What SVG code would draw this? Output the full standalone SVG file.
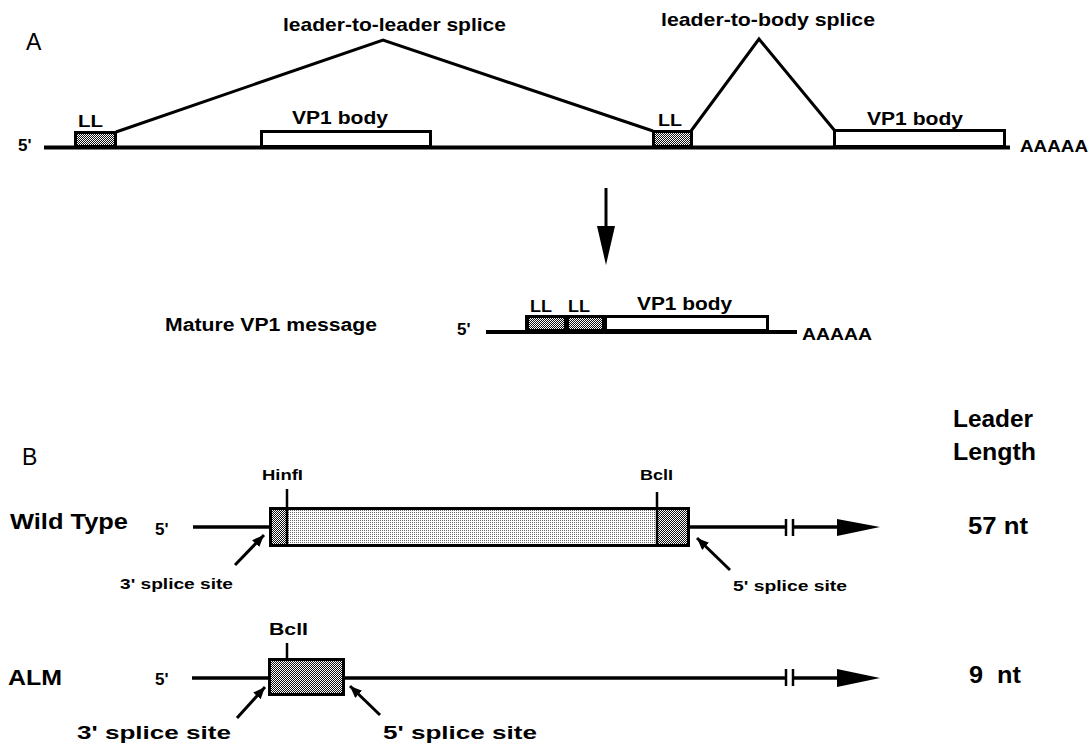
<svg xmlns="http://www.w3.org/2000/svg" width="1089" height="747" viewBox="0 0 1089 747">
<style>
text{font-family:"Liberation Sans",Arial,sans-serif;font-weight:bold;fill:#000}
.lbl{font-weight:normal;font-size:23px}
.ln{stroke:#000;fill:none;stroke-linecap:butt}
.box{stroke:#000;stroke-width:3}
</style>
<defs>
<pattern id="chk" width="2" height="2" patternUnits="userSpaceOnUse"><rect width="2" height="2" fill="#111"/><rect width="1" height="1" fill="#fff"/><rect x="1" y="1" width="1" height="1" fill="#fff"/></pattern>
<pattern id="lt" width="2" height="2" patternUnits="userSpaceOnUse"><rect width="2" height="2" fill="#fff"/><rect width="1" height="1" fill="#666"/></pattern>
<marker id="ah" markerUnits="userSpaceOnUse" markerWidth="14" markerHeight="12" refX="12" refY="5" orient="auto"><path d="M0,0 L12,5 L0,10 Z" fill="#000"/></marker>
</defs>
<rect width="1089" height="747" fill="#fff"/>

<!-- Panel A -->
<g id="panelA">
<text class="lbl" x="26" y="50">A</text>
<text x="18" y="151" font-size="17">5'</text>
<line class="ln" x1="44" y1="147.5" x2="1010" y2="147.5" stroke-width="4"/>
<text x="1020" y="152" font-size="17" textLength="68" lengthAdjust="spacingAndGlyphs">AAAAA</text>
</g>
<g id="LL1">
<rect class="box" x="75.5" y="132.5" width="40" height="14" fill="url(#chk)"/>
<text x="78" y="127" font-size="16" textLength="25" lengthAdjust="spacingAndGlyphs">LL</text>
</g>
<g id="VP1body1">
<rect class="box" x="261.5" y="131.5" width="169" height="15" fill="#fff"/>
<text x="292" y="124" font-size="19" textLength="96" lengthAdjust="spacingAndGlyphs">VP1 body</text>
</g>
<g id="LL2">
<rect class="box" x="653.5" y="131.5" width="38" height="15" fill="url(#chk)"/>
<text x="658" y="126" font-size="16" textLength="24" lengthAdjust="spacingAndGlyphs">LL</text>
</g>
<g id="VP1body2">
<rect class="box" x="834.5" y="130.5" width="170" height="16" fill="#fff"/>
<text x="867" y="125" font-size="19" textLength="96" lengthAdjust="spacingAndGlyphs">VP1 body</text>
</g>
<g id="spliceLabels">
<text x="283" y="31" font-size="19" textLength="223" lengthAdjust="spacingAndGlyphs">leader-to-leader splice</text>
<text x="661" y="26" font-size="19" textLength="214" lengthAdjust="spacingAndGlyphs">leader-to-body splice</text>
</g>

<!-- Mature message -->
<g id="mature">
<text x="165" y="331" font-size="18" textLength="212" lengthAdjust="spacingAndGlyphs">Mature VP1 message</text>
<text x="457" y="335" font-size="17">5'</text>
<line class="ln" x1="486" y1="332" x2="797" y2="332" stroke-width="4"/>
<rect x="525" y="315" width="82" height="17" fill="#000"/>
<rect x="529" y="318" width="35" height="11" fill="url(#chk)"/>
<rect x="569" y="318" width="33" height="11" fill="url(#chk)"/>
<rect class="box" x="605.5" y="316.5" width="162" height="14" fill="#fff"/>
<text x="530" y="312" font-size="16" textLength="22" lengthAdjust="spacingAndGlyphs">LL</text>
<text x="568" y="312" font-size="16" textLength="22" lengthAdjust="spacingAndGlyphs">LL</text>
<text x="637" y="310" font-size="19" textLength="95" lengthAdjust="spacingAndGlyphs">VP1 body</text>
<text x="802" y="340" font-size="17" textLength="70" lengthAdjust="spacingAndGlyphs">AAAAA</text>
</g>

<!-- Panel B -->
<g id="panelB">
<text class="lbl" x="22" y="465">B</text>
<text x="953" y="427" font-size="24" textLength="80" lengthAdjust="spacingAndGlyphs">Leader</text>
<text x="953" y="460" font-size="24" textLength="83" lengthAdjust="spacingAndGlyphs">Length</text>
</g>
<g id="wildtype">
<text x="10" y="529" font-size="22" textLength="118" lengthAdjust="spacingAndGlyphs">Wild Type</text>
<text x="155" y="535" font-size="17">5'</text>
<rect class="box" x="270.5" y="508.5" width="418" height="37" fill="url(#lt)"/>
<rect x="272" y="510" width="15" height="34" fill="url(#chk)"/>
<rect x="658" y="510" width="29" height="34" fill="url(#chk)"/>
<line class="ln" x1="287" y1="508" x2="287" y2="546" stroke-width="2.5"/>
<line class="ln" x1="657" y1="508" x2="657" y2="546" stroke-width="2.5"/>
<line class="ln" x1="287" y1="489" x2="287" y2="508" stroke-width="2.5"/>
<line class="ln" x1="657" y1="492" x2="657" y2="508" stroke-width="2.5"/>
<text x="262" y="480" font-size="14" textLength="41" lengthAdjust="spacingAndGlyphs">HinfI</text>
<text x="640" y="480" font-size="14" textLength="33" lengthAdjust="spacingAndGlyphs">BclI</text>
<text x="968" y="534" font-size="23" textLength="60" lengthAdjust="spacingAndGlyphs">57 nt</text>
<text x="120" y="589" font-size="15" textLength="113" lengthAdjust="spacingAndGlyphs">3' splice site</text>
<text x="733" y="591" font-size="15" textLength="114" lengthAdjust="spacingAndGlyphs">5' splice site</text>
</g>
<g id="alm">
<text x="8" y="685" font-size="22" textLength="54" lengthAdjust="spacingAndGlyphs">ALM</text>
<text x="155" y="685" font-size="17">5'</text>
<rect class="box" x="269.5" y="659.5" width="74" height="35" fill="url(#chk)"/>
<line class="ln" x1="287" y1="643" x2="287" y2="659" stroke-width="2.5"/>
<text x="269" y="635" font-size="16" textLength="39" lengthAdjust="spacingAndGlyphs">BclI</text>
<text x="969" y="683" font-size="23" textLength="52" lengthAdjust="spacingAndGlyphs" xml:space="preserve">9  nt</text>
<text x="77" y="739" font-size="19" textLength="154" lengthAdjust="spacingAndGlyphs">3' splice site</text>
<text x="383" y="739" font-size="19" textLength="154" lengthAdjust="spacingAndGlyphs">5' splice site</text>
</g>

<!-- Connectors -->
<g id="connectors">
<polyline class="ln" points="116,132 383,40 653,131" stroke-width="3" stroke-linejoin="miter"/>
<polyline class="ln" points="691,131 759,39 835,131" stroke-width="3" stroke-linejoin="miter"/>
<line class="ln" x1="606" y1="188" x2="606" y2="230" stroke-width="3"/>
<polygon points="597,226 615,226 606,265" fill="#000"/>
<line class="ln" x1="193" y1="527" x2="270" y2="527" stroke-width="3.5"/>
<line class="ln" x1="690" y1="527" x2="786" y2="527" stroke-width="3.5"/>
<line class="ln" x1="786" y1="519" x2="786" y2="536" stroke-width="2.5"/>
<line class="ln" x1="793" y1="519" x2="793" y2="536" stroke-width="2.5"/>
<line class="ln" x1="793" y1="527" x2="840" y2="527" stroke-width="3.5"/>
<polygon points="837,519 880,527 837,536" fill="#000"/>
<line class="ln" x1="192" y1="678" x2="269" y2="678" stroke-width="3.5"/>
<line class="ln" x1="345" y1="678" x2="786" y2="678" stroke-width="3.5"/>
<line class="ln" x1="786" y1="669" x2="786" y2="686" stroke-width="2.5"/>
<line class="ln" x1="793" y1="669" x2="793" y2="686" stroke-width="2.5"/>
<line class="ln" x1="793" y1="678" x2="840" y2="678" stroke-width="3.5"/>
<polygon points="837,669 880,678 837,687" fill="#000"/>
<line class="ln" x1="235" y1="565" x2="264" y2="535" stroke-width="3" marker-end="url(#ah)"/>
<line class="ln" x1="730" y1="570" x2="697" y2="538" stroke-width="3" marker-end="url(#ah)"/>
<line class="ln" x1="237" y1="718" x2="265" y2="687" stroke-width="3" marker-end="url(#ah)"/>
<line class="ln" x1="380" y1="715" x2="350" y2="686" stroke-width="3" marker-end="url(#ah)"/>
</g>
</svg>
